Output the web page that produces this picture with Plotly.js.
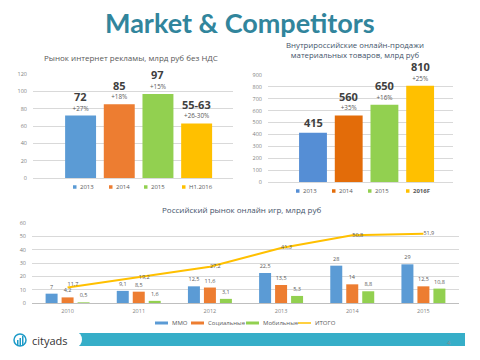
<!DOCTYPE html>
<html><head><meta charset="utf-8">
<script src="https://cdn.plot.ly/plotly-3.0.1.min.js"></script>
<style>html,body{margin:0;padding:0;background:#fff}#chart{width:480px;height:360px}</style>
</head><body><div id="chart"></div>
<script>
// ---- Chart 1: internet advertising market ----
const adCategories = ['2013', '2014', '2015', 'H1.2016'];
const adValues = [72, 85, 97, 63];
const adLabels = ['72', '85', '97', '55-63'];
const adGrowth = ['+27%', '+18%', '+15%', '+26-30%'];
// ---- Chart 2: domestic e-commerce ----
const ecomCategories = ['2013', '2014', '2015', '2016F'];
const ecomValues = [415, 560, 650, 810];
const ecomGrowth = ['', '+35%', '+16%', '+25%'];
// ---- Chart 3: online games market ----
const gameYears = ['2010', '2011', '2012', '2013', '2014', '2015'];
const mmo = [7, 9.1, 12.5, 22.5, 28, 29];
const social = [4.2, 8.5, 11.6, 13.5, 14, 12.5];
const mobile = [0.5, 1.6, 3.1, 5.3, 8.8, 10.8];
const total = [11.7, 19.2, 27.2, 41.3, 50.8, 51.9];
const gameSeriesNames = ['MMO', 'Социальные', 'Мобильные', 'ИТОГО'];

const W = 480, H = 360;
const px = x => x / W;
const py = y => 1 - y / H;
const FONT = 'Open Sans, Noto Sans, DejaVu Sans, sans-serif';
const comma = v => String(v).replace('.', ',');

const c1Colors = ['#5B9BD5', '#ED7D31', '#92D050', '#FFC000'];
const c2Colors = ['#558ED5', '#E36C09', '#92D050', '#FFC000'];
const c3Colors = ['#5B9BD5', '#ED7D31', '#92D050', '#FFC000'];

const traces = [];
const annotations = [];
const shapes = [];

adCategories.forEach((c, i) => {
  traces.push({
    type: 'bar', x: [c], y: [adValues[i]], name: c, xaxis: 'x', yaxis: 'y',
    width: 0.8, offset: -0.4, marker: {color: c1Colors[i]},
    text: [adGrowth[i]], textposition: 'outside', cliponaxis: false, constraintext: 'none',
    textfont: {family: FONT, size: 6.3, color: '#595959'}, hoverinfo: 'skip'
  });
  // x given as the category index so numeric-looking categories are not read as numbers
  annotations.push({text: '<b>' + adLabels[i] + '</b>', x: i, y: adValues[i], xref: 'x', yref: 'y',
    showarrow: false, yanchor: 'middle', yshift: 19, font: {family: FONT, size: 11, color: '#404040'}});
});
ecomCategories.forEach((c, i) => {
  traces.push({
    type: 'bar', x: [c], y: [ecomValues[i]], name: c, xaxis: 'x2', yaxis: 'y2',
    width: 0.78, offset: -0.39, marker: {color: c2Colors[i]},
    text: [ecomGrowth[i]], textposition: 'outside', cliponaxis: false, constraintext: 'none',
    textfont: {family: FONT, size: 6.3, color: '#595959'}, hoverinfo: 'skip'
  });
  annotations.push({text: '<b>' + ecomValues[i] + '</b>', x: i, y: ecomValues[i], xref: 'x2', yref: 'y2',
    showarrow: false, yanchor: 'middle', yshift: ecomGrowth[i] ? 19 : 10, font: {family: FONT, size: 11, color: '#404040'}});
});
[mmo, social, mobile].forEach((arr, i) => {
  traces.push({
    type: 'bar', x: gameYears, y: arr, name: gameSeriesNames[i], xaxis: 'x3', yaxis: 'y3',
    marker: {color: c3Colors[i]},
    text: arr.map(comma), textposition: 'outside', cliponaxis: false, constraintext: 'none',
    textfont: {family: FONT, size: 5.5, color: '#595959'}, hoverinfo: 'skip'
  });
});
traces.push({
  type: 'scatter', mode: 'lines+text', x: gameYears, y: total, name: gameSeriesNames[3],
  xaxis: 'x3', yaxis: 'y3', line: {color: c3Colors[3], width: 2},
  text: total.map(comma),
  textposition: ['top right', 'middle right', 'middle right', 'middle right', 'middle right', 'middle right'],
  textfont: {family: FONT, size: 5.5, color: '#595959'}, cliponaxis: false, hoverinfo: 'skip'
});

// ---- legends (drawn as layout swatches + labels) ----
const legendFont = {family: FONT, size: 6, color: '#595959'};
function legendItem(xBox, yc, w, h, color, label, isLine) {
  if (isLine) {
    shapes.push({type: 'line', xref: 'paper', yref: 'paper', x0: px(xBox), x1: px(xBox + w), y0: py(yc), y1: py(yc),
      line: {color: color, width: 1.5}});
  } else {
    shapes.push({type: 'rect', xref: 'paper', yref: 'paper', x0: px(xBox), x1: px(xBox + w), y0: py(yc + h / 2), y1: py(yc - h / 2),
      fillcolor: color, line: {width: 0}});
  }
  annotations.push({text: label, x: px(xBox + w + 1.5), y: py(yc), xref: 'paper', yref: 'paper', showarrow: false,
    xanchor: 'left', yanchor: 'middle', font: legendFont});
}
const leg1X = [73, 109, 144, 182];
adCategories.forEach((c, i) => legendItem(leg1X[i], 187, 3.5, 3.5, c1Colors[i], c));
const leg2X = [296, 332, 368, 406];
ecomCategories.forEach((c, i) => legendItem(leg2X[i], 191, 3.5, 3.5, c2Colors[i], i === 3 ? '<b>' + c + '</b>' : c));
const leg3X = [155, 191, 246, 298];
gameSeriesNames.forEach((n, i) => legendItem(leg3X[i], 323, 13, 3, c3Colors[i], n, i === 3));

const tickFont = {family: FONT, size: 5.5, color: '#7F7F7F'};
const gridC = '#D9D9D9';

annotations.push(
  {text: '<b>Market & Competitors</b>', x: 0.5, y: py(22), xref: 'paper', yref: 'paper', showarrow: false,
    font: {family: 'Lato, Open Sans, sans-serif', size: 27, color: '#31859C'}, xanchor: 'center', yanchor: 'middle'},
  {text: 'Рынок интернет рекламы, млрд руб без НДС', x: px(131), y: py(58), xref: 'paper', yref: 'paper', showarrow: false,
    font: {family: FONT, size: 8, color: '#595959'}, xanchor: 'center', yanchor: 'middle'},
  {text: 'Внутрироссийские онлайн-продажи<br>материальных товаров, млрд руб', x: px(355), y: py(50), xref: 'paper', yref: 'paper', showarrow: false,
    font: {family: FONT, size: 7.8, color: '#44546A'}, xanchor: 'center', yanchor: 'middle'},
  {text: 'Российский рынок онлайн игр, млрд руб', x: px(241), y: py(209), xref: 'paper', yref: 'paper', showarrow: false,
    font: {family: FONT, size: 8, color: '#44546A'}, xanchor: 'center', yanchor: 'middle'},
  {text: 'cityads', x: px(30), y: py(340), xref: 'paper', yref: 'paper', showarrow: false,
    font: {family: FONT, size: 11, color: '#333333'}, xanchor: 'left', yanchor: 'middle'},
  {text: '4', x: px(449), y: py(343), xref: 'paper', yref: 'paper', showarrow: false,
    font: {family: FONT, size: 6, color: '#8C8C8C'}, xanchor: 'center', yanchor: 'middle'}
);
shapes.push(
  {type: 'rect', xref: 'paper', yref: 'paper', x0: px(78), x1: px(465), y0: py(346), y1: py(333),
    fillcolor: '#36AEC8', line: {width: 0}, layer: 'below'},
  {type: 'circle', xref: 'paper', yref: 'paper', x0: px(70), x1: px(82), y0: py(347), y1: py(332),
    fillcolor: '#FFFFFF', line: {width: 0}},
  {type: 'circle', xref: 'paper', yref: 'paper', x0: px(14), x1: px(26), y0: py(346), y1: py(334),
    fillcolor: 'rgba(0,0,0,0)', line: {color: '#1E9BC8', width: 1.5}},
  {type: 'rect', xref: 'paper', yref: 'paper', x0: px(17), x1: px(18.5), y0: py(346), y1: py(340),
    fillcolor: '#1E9BC8', line: {width: 0}},
  {type: 'rect', xref: 'paper', yref: 'paper', x0: px(19.5), x1: px(21), y0: py(346), y1: py(338),
    fillcolor: '#1E9BC8', line: {width: 0}},
  {type: 'rect', xref: 'paper', yref: 'paper', x0: px(22), x1: px(23.5), y0: py(346), y1: py(336),
    fillcolor: '#1E9BC8', line: {width: 0}}
);

const layout = {
  width: W, height: H, margin: {l: 0, r: 0, t: 0, b: 0, autoexpand: false},
  paper_bgcolor: '#fff', plot_bgcolor: 'rgba(0,0,0,0)',
  barmode: 'group', bargap: 0.326, bargroupgap: 0.25,
  font: {family: FONT, color: '#595959'},
  showlegend: false,
  xaxis: {domain: [px(33), px(233)], anchor: 'y', type: 'category', categoryarray: adCategories,
    range: [-1.23, 3.94], showticklabels: false, showgrid: false, zeroline: false, ticks: ''},
  yaxis: {domain: [py(178), py(74)], anchor: 'x', range: [0, 120], dtick: 20, gridcolor: gridC,
    zeroline: true, zerolinecolor: gridC, zerolinewidth: 1, tickfont: tickFont, ticks: '', ticklabelstandoff: 5},
  xaxis2: {domain: [px(268), px(453)], anchor: 'y2', type: 'category', categoryarray: ecomCategories,
    range: [-1.26, 3.92], showticklabels: false, showgrid: false, zeroline: false, ticks: ''},
  yaxis2: {domain: [py(182), py(75)], anchor: 'x2', range: [0, 900], dtick: 100, gridcolor: gridC,
    zeroline: true, zerolinecolor: gridC, zerolinewidth: 1, tickfont: tickFont, ticks: '', ticklabelstandoff: 5},
  xaxis3: {domain: [px(32), px(459)], anchor: 'y3', type: 'category', categoryarray: gameYears,
    range: [-0.5, 5.5], showgrid: false, zeroline: false, ticks: '', tickfont: tickFont, showline: false,
    ticklabelstandoff: 3},
  yaxis3: {domain: [py(303), py(223)], anchor: 'x3', range: [0, 60], dtick: 10, gridcolor: gridC,
    zeroline: true, zerolinecolor: '#BFBFBF', zerolinewidth: 1, tickfont: tickFont, ticks: '', ticklabelstandoff: 5},
  annotations: annotations,
  shapes: shapes
};

Plotly.newPlot('chart', traces, layout, {staticPlot: true, displayModeBar: false});
</script>
</body></html>
